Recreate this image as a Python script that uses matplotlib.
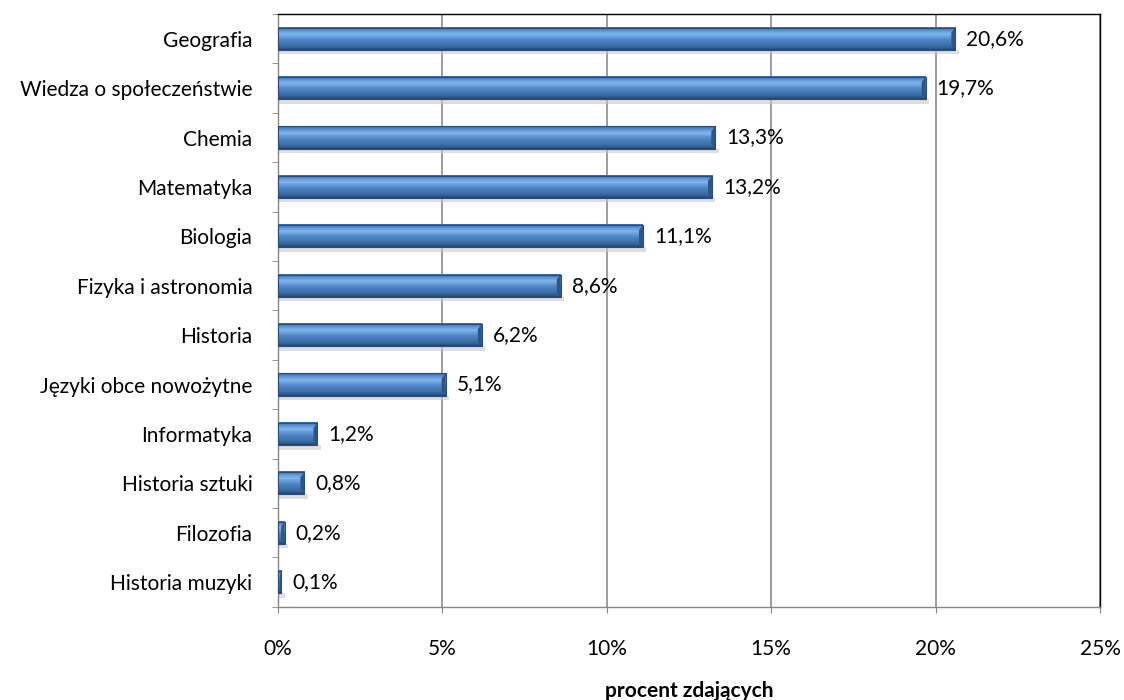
import numpy as np
import matplotlib.pyplot as plt
from matplotlib.colors import LinearSegmentedColormap
from matplotlib.ticker import FixedLocator

# Dane
przedmioty = ["Geografia", "Wiedza o społeczeństwie", "Chemia", "Matematyka", "Biologia",
              "Fizyka i astronomia", "Historia", "Języki obce nowożytne", "Informatyka",
              "Historia sztuki", "Filozofia", "Historia muzyki"]
procent = [20.6, 19.7, 13.3, 13.2, 11.1, 8.6, 6.2, 5.1, 1.2, 0.8, 0.2, 0.1]
etykiety = ["20,6%", "19,7%", "13,3%", "13,2%", "11,1%", "8,6%", "6,2%", "5,1%",
            "1,2%", "0,8%", "0,2%", "0,1%"]

plt.rcParams['font.family'] = ['Lato', 'DejaVu Sans']
fs = 15

fig = plt.figure(figsize=(11.24, 7), dpi=100)
ax = fig.add_axes([0.2473, 0.133, 0.7313, 0.847])

n = len(przedmioty)
y = np.arange(n)[::-1]
h = 0.45

# gradient "wypukłego" paska
cmap = LinearSegmentedColormap.from_list("bevel", [
    (0.0, "#23466f"), (0.15, "#3a6aa3"), (0.45, "#4f86c6"),
    (0.7, "#80b6ec"), (0.85, "#5f95d4"), (1.0, "#3a6aa6")])
grad = np.linspace(0, 1, 64).reshape(-1, 1)

for yi, v in zip(y, procent):
    # cień
    ax.fill_between([0, v + 0.1], yi - h / 2 - 0.09, yi - h / 2, color="#c8c8c8", alpha=0.6,
                    lw=0, zorder=2)
    ax.imshow(grad, cmap=cmap, aspect="auto", origin="lower",
              extent=[0, v, yi - h / 2, yi + h / 2], zorder=3, interpolation="bilinear")
    # ścięty koniec
    d = min(0.12, v / 2)
    ax.fill([v - d, v, v, v - d], [yi + h / 2 - 0.1, yi + h / 2, yi - h / 2, yi - h / 2 + 0.1],
            color="#2d5684", lw=0, zorder=4)
    ax.plot([0, v, v, 0, 0], [yi - h / 2, yi - h / 2, yi + h / 2, yi + h / 2, yi - h / 2],
            color="#2a4c78", lw=0.8, zorder=5)

for yi, v, t in zip(y, procent, etykiety):
    ax.text(v + 0.33, yi, t, va="center", ha="left", fontsize=fs, color="black")

ax.set_xlim(0, 25)
ax.set_ylim(-0.5, n - 0.5)
ax.set_xticks([0, 5, 10, 15, 20, 25])
ax.set_xticklabels(["0%", "5%", "10%", "15%", "20%", "25%"], fontsize=fs)
ax.set_yticks(y)
ax.set_yticklabels(przedmioty, fontsize=fs)
ax.yaxis.set_minor_locator(FixedLocator(np.arange(-0.5, n, 1)))
ax.tick_params(axis="y", which="major", length=0, pad=18.5)
ax.tick_params(axis="y", which="minor", length=4, direction="out", color="#868686")
ax.tick_params(axis="x", length=4, direction="out", pad=19, color="#868686")
ax.xaxis.grid(True, color="#8c8c8c", lw=1.2)
ax.set_axisbelow(True)
for s in ax.spines.values():
    s.set_color("black")
    s.set_linewidth(1)
ax.spines["left"].set_color("#868686")
ax.spines["bottom"].set_color("#868686")
ax.set_xlabel("procent zdających", fontsize=fs, fontweight="bold", labelpad=16)

plt.savefig("out.png", dpi=100)
